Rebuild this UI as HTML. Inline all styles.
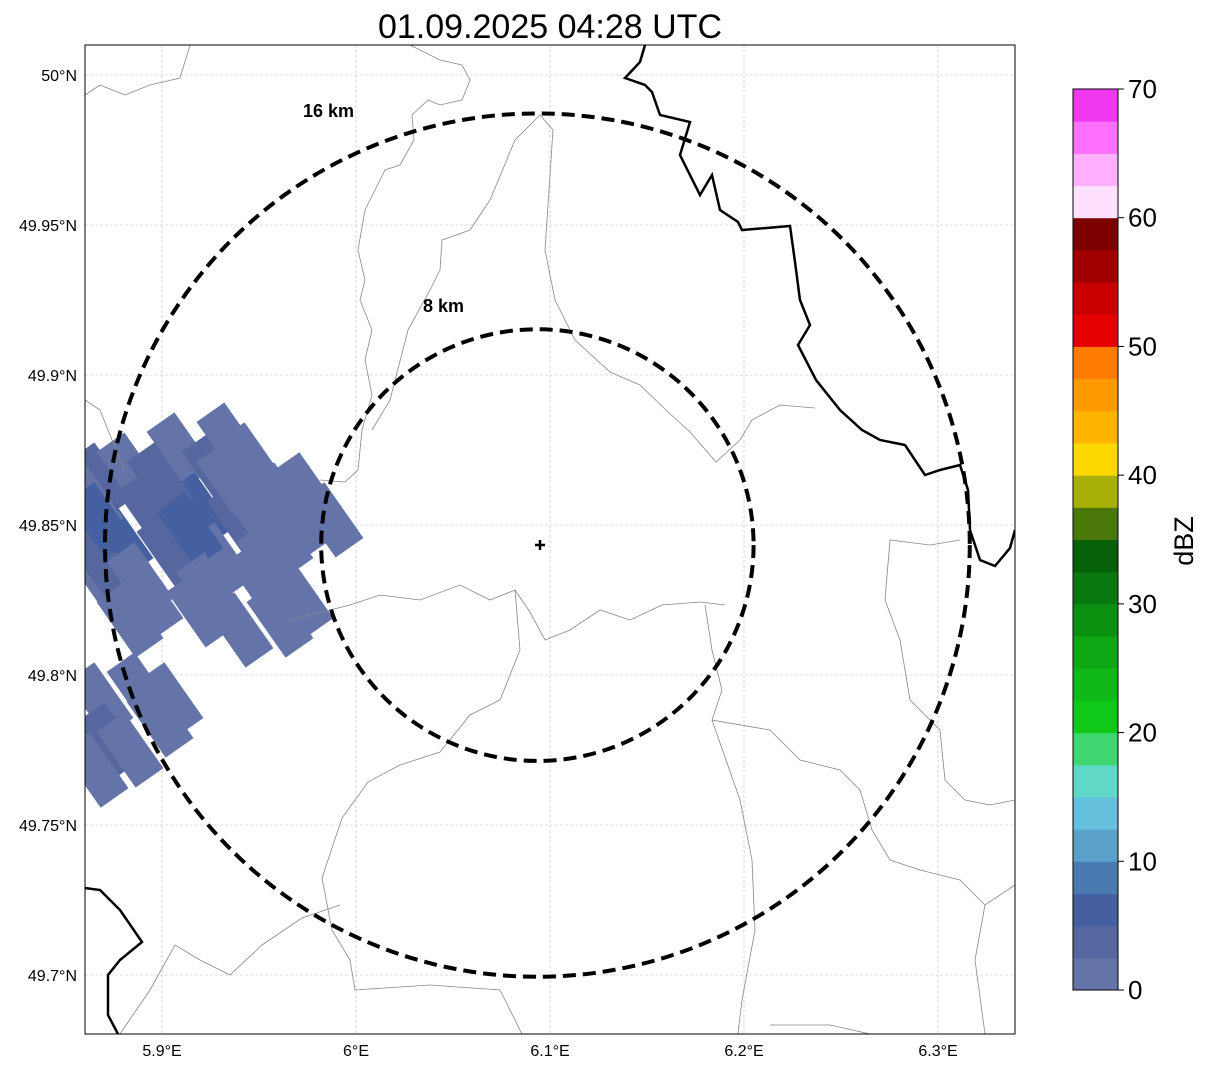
<!DOCTYPE html>
<html><head><meta charset="utf-8"><style>
body{margin:0;background:#fff;}
svg text{font-family:"Liberation Sans",sans-serif;}
</style></head><body>
<svg id="chart" width="1207" height="1069" viewBox="0 0 1207 1069" xmlns="http://www.w3.org/2000/svg">
<rect width="1207" height="1069" fill="#fff"/>
<text x="550" y="38" font-size="34" text-anchor="middle">01.09.2025 04:28 UTC</text>
<defs><clipPath id="mapclip"><rect x="85" y="45" width="930" height="989"/></clipPath></defs>
<g id="map" clip-path="url(#mapclip)">
<g id="grid"></g>
<g id="echoes"></g>
<g fill="none" stroke="#888" stroke-width="0.8">
<polyline points="85,95 100,85 125,95 150,85 180,78 190,45"/>
<polyline points="410,45 440,60 462,65 470,80 462,100 440,105 428,100 412,115 414,140 400,165 385,170 365,210 358,250 365,280 360,300 372,330 365,360 372,395 362,430 358,470 345,482 320,480"/>
<polyline points="540,115 515,140 490,200 470,230 442,240 440,270 430,290 408,330 390,400 372,430"/>
<polyline points="290,620 350,605 380,595 420,600 460,585 490,600 515,590 530,612 545,640 570,630 600,610 630,620 662,605 700,602 725,605"/>
<polyline points="540,115 553,130 545,250 555,300 575,340 610,372 640,385 668,412 690,432 716,462 740,440 752,420 780,405 815,408"/>
<polyline points="515,590 520,650 500,700 470,715 440,752 400,765 368,782 342,818 322,878 332,930 350,960 355,990 430,985 500,990 522,1034"/>
<polyline points="705,605 712,650 722,690 712,720 770,730 800,760 840,770 860,790 872,830 890,860 920,870 960,880 985,905 1015,885"/>
<polyline points="712,720 740,800 752,860 755,930 742,1000 738,1034"/>
<polyline points="85,400 100,410 112,440 125,470"/>
<polyline points="120,1034 150,990 175,945 200,960 230,975 262,945 302,918 340,905"/>
<polyline points="770,1025 830,1025 870,1034"/>
<polyline points="1015,800 990,805 965,800 945,780 940,730 910,700 900,640 885,600 890,540 930,545 960,540"/>
<polyline points="985,905 975,960 985,1034"/>
</g>
<g fill="none" stroke="#000" stroke-width="2.5">
<polyline points="645,45 640,62 625,78 645,85 652,92 660,115 690,122 680,155 700,195 712,175 720,210 738,222 742,230 790,226 795,262 800,300 810,325 798,345 816,380 840,410 862,430 880,440 905,445 925,475 940,470 960,465 968,490 970,530 980,560 995,566 1010,548 1015,530"/>
<polyline points="85,888 100,890 120,910 142,942 120,960 108,975 108,1015 118,1034"/>
</g>
<g id="rings"></g>
<path d="M540,540 V550 M535,545 H545" stroke="#000" stroke-width="2.5"/>
<text x="303" y="117" font-size="18" font-weight="bold">16 km</text>
<text x="423" y="312" font-size="18" font-weight="bold">8 km</text>
</g>
<rect x="85" y="45" width="930" height="989" fill="none" stroke="#000" stroke-width="1"/>
<g id="ticks"></g>
<g id="cbar"></g>
<text transform="translate(1193,541) rotate(-90)" font-size="27" text-anchor="middle">dBZ</text>
</svg>
<script>
const lonTicks=[5.9,6.0,6.1,6.2,6.3];
const lonLabels=["5.9°E","6°E","6.1°E","6.2°E","6.3°E"];
const latTicks=[50.0,49.95,49.9,49.85,49.8,49.75,49.7];
const latLabels=["50°N","49.95°N","49.9°N","49.85°N","49.8°N","49.75°N","49.7°N"];
const cbColors=["#6474a8","#5667a0","#4560a0","#4a7bb0","#5aa0c8","#64c0dc","#60d8c8","#3dd670","#10c818","#10b818","#0ea814","#0c9010","#0a7810","#056008","#4a7808","#a8b008","#ffd800","#ffb400","#ff9a00","#ff7c00","#e60000","#c80000","#a00000","#7c0000","#ffe0ff","#ffb0ff","#ff70ff","#f038f0"];
const cbTicks=[0,10,20,30,40,50,60,70];
const echoLon=[5.868,5.8835,5.9093,5.9273,5.9454,5.9608,5.9711,5.8938,5.9196,5.9402,5.8784,5.9041,5.9299,5.9505,5.9711,5.8732,5.8938,5.9196,5.9402,5.9866,5.8629,5.868,5.8835,5.9557,5.899,5.935,5.9144,5.9505,5.9608,5.9247,5.9608,5.868,5.8887,5.935,5.9737,5.868,5.8887,5.899,5.8732,5.8655,5.8835,5.9041];
const echoLat=[49.865,49.8683,49.875,49.8683,49.8717,49.8583,49.8517,49.855,49.855,49.8517,49.845,49.8417,49.8383,49.8317,49.825,49.8283,49.825,49.8217,49.815,49.8517,49.8583,49.8383,49.8183,49.8383,49.865,49.865,49.8483,49.8517,49.845,49.8283,49.8183,49.8517,49.8317,49.8783,49.8617,49.7917,49.795,49.785,49.7783,49.7683,49.775,49.7917];
const echoDbz=[3,1,1,4,2,1,1,4,5,3,5,3,2,1,1,2,1,2,1,1,1,4,1,2,4,1,5,2,1,1,1,5,1,1,1,1,1,1,3,2,1,1];
const ringKm=[16,8];
const center=[6.0935,49.8433];
const X=lon=>162+(lon-5.9)*1940;
const Y=lat=>75+(50-lat)*3000;
const NS="http://www.w3.org/2000/svg";
function mk(tag,attrs,parent){const e=document.createElementNS(NS,tag);for(const k in attrs)e.setAttribute(k,attrs[k]);parent.appendChild(e);return e;}
const grid=document.getElementById('grid'),ticks=document.getElementById('ticks');
lonTicks.forEach((v,i)=>{
 const l=mk('line',{x1:X(v),x2:X(v),y1:45,y2:1034,stroke:'#bbb','stroke-width':0.6,'stroke-dasharray':'3,2'},grid);
 
 
 const t=mk('text',{x:X(v),y:1056,'font-size':16,'text-anchor':'middle'},ticks);t.textContent=lonLabels[i];
 
 
});
latTicks.forEach((v,i)=>{
 const l=mk('line',{x1:85,x2:1015,y1:Y(v),y2:Y(v),stroke:'#bbb','stroke-width':0.6,'stroke-dasharray':'3,2'},grid);
 
 
 const t=mk('text',{x:77,y:Y(v)+6,'font-size':16,'text-anchor':'end'},ticks);t.textContent=latLabels[i];
 
 
});
const echoes=document.getElementById('echoes');
const cbMax=70,cbTop=89,cbBot=990;
echoLon.forEach((lo,i)=>{
 const cx=X(lo),cy=Y(echoLat[i]);
 const c=cbColors[Math.min(27,Math.floor(echoDbz[i]/2.5))];
 const r=mk('rect',{x:cx-34,y:cy-17,width:68,height:34,fill:c,transform:`rotate(55 ${cx} ${cy})`},echoes);
 
 
});
const rings=document.getElementById('rings');
ringKm.forEach(km=>{
 const rx=km/(111.32*Math.cos(center[1]*Math.PI/180))*1940, ry=km/111.2*3000;
 const e=mk('ellipse',{cx:X(center[0]),cy:Y(center[1]),rx:rx,ry:ry,fill:'none',stroke:'#000','stroke-width':4,'stroke-dasharray':'13,7'},rings);
 
 
});
const cb=document.getElementById('cbar');
const h=(cbBot-cbTop)/cbColors.length;
cbColors.forEach((c,i)=>{
 const r=mk('rect',{x:1073,y:cbBot-(i+1)*h,width:45,height:h+0.5,fill:c},cb);
 
 
});
mk('rect',{x:1073,y:cbTop,width:45,height:cbBot-cbTop,fill:'none',stroke:'#000','stroke-width':1},cb);
cbTicks.forEach(v=>{
 const y=cbBot-v/cbMax*(cbBot-cbTop);
 mk('line',{x1:1118,x2:1124,y1:y,y2:y,stroke:'#000'},cb);
 const t=mk('text',{x:1128,y:y+9,'font-size':26},cb);t.textContent=v;
 
 
});
</script>
</body></html>
